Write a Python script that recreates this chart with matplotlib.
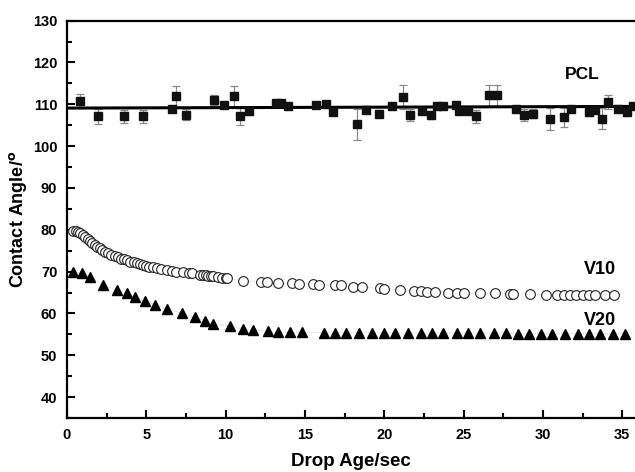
import matplotlib
matplotlib.use("Agg")
import matplotlib.pyplot as plt
from matplotlib.ticker import MultipleLocator

plt.rcParams['font.family'] = ['Liberation Sans', 'DejaVu Sans']
plt.rcParams['font.weight'] = 'bold'
plt.rcParams['mathtext.default'] = 'regular'

# PCL: drop age (s), contact angle (deg), error
pcl_t = [0.82, 1.97, 3.6, 4.8, 6.64, 6.9, 7.5, 9.25, 9.9, 10.5, 10.9, 11.45,
         13.2, 13.5, 13.95, 15.7, 16.3, 16.75, 18.26, 18.83, 19.67, 20.5, 21.2,
         21.6, 22.4, 22.95, 23.3, 23.7, 24.5, 24.7, 25.3, 25.8, 26.6, 27.1,
         28.3, 28.8, 29.4, 30.45, 31.35, 31.75, 32.9, 33.3, 33.7, 34.1, 34.7,
         35.3, 35.7]
pcl_a = [110.9, 107.1, 107.1, 107.1, 108.9, 111.9, 107.5, 111.1, 109.9, 111.9,
         107.1, 108.3, 110.3, 110.3, 109.7, 109.9, 110.1, 108.1, 105.2, 108.7,
         107.8, 109.7, 111.8, 107.5, 108.3, 107.5, 109.7, 109.5, 109.9, 108.3,
         108.4, 107.1, 112.2, 112.2, 109.0, 107.5, 107.8, 106.5, 106.9, 109.0,
         108.1, 108.7, 106.6, 110.6, 108.9, 108.1, 109.7]
pcl_e = [1.5, 1.8, 1.5, 1.5, 0.5, 2.6, 1.3, 1.2, 0.5, 2.6,
         2.0, 0.8, 0.5, 0.5, 0.5, 0.5, 0.5, 0.5, 3.8, 0.6,
         0.8, 0.5, 2.8, 1.5, 0.6, 1.0, 0.5, 0.5, 0.5, 0.6,
         0.6, 1.5, 2.5, 2.5, 0.5, 1.5, 1.0, 2.6, 2.3, 0.5,
         0.8, 0.5, 2.5, 1.6, 0.5, 1.0, 0.5]
pcl_fit_t = [0.0, 35.8]
pcl_fit_a = [109.1, 109.5]

# V10
v10_t = [0.4, 0.55, 0.7, 0.85, 1.0, 1.15, 1.3, 1.45, 1.6, 1.75, 1.9, 2.05,
         2.2, 2.4, 2.6, 2.8, 3.0, 3.2, 3.4, 3.6, 3.8, 4.0, 4.2, 4.4, 4.6, 4.8,
         5.0, 5.2, 5.45, 5.7, 5.95, 6.3, 6.6, 6.9, 7.3, 7.7, 7.9, 8.4, 8.6,
         8.75, 8.9, 9.05, 9.2, 9.5, 9.8, 10.0, 10.1, 11.1, 12.2, 12.6, 13.3,
         14.2, 14.6, 15.5, 15.9, 16.9, 17.3, 18.0, 18.6, 19.7, 20.0, 21.0,
         21.9, 22.3, 22.7, 23.2, 24.0, 24.6, 25.0, 26.0, 27.0, 27.9, 28.1,
         29.2, 30.2, 30.9, 31.3, 31.7, 32.1, 32.5, 32.9, 33.3, 33.9, 34.5]
v10_a = [79.6, 79.7, 79.5, 79.2, 78.8, 78.3, 77.8, 77.3, 76.9, 76.4, 76.0, 75.6,
         75.2, 74.8, 74.4, 74.0, 73.7, 73.4, 73.1, 72.9, 72.7, 72.4, 72.2, 72.0,
         71.8, 71.6, 71.4, 71.2, 71.0, 70.8, 70.6, 70.3, 70.1, 70.0, 69.8, 69.7,
         69.6, 69.3, 69.2, 69.1, 69.0, 69.0, 68.9, 68.7, 68.5, 68.4, 68.4, 67.7,
         67.5, 67.4, 67.3, 67.2, 67.1, 67.0, 66.9, 66.8, 66.7, 66.4, 66.3, 66.0,
         65.9, 65.6, 65.4, 65.3, 65.2, 65.1, 65.0, 64.9, 64.9, 64.8, 64.8, 64.7,
         64.7, 64.6, 64.5, 64.5, 64.5, 64.4, 64.4, 64.4, 64.4, 64.4, 64.3, 64.3]

# V20
v20_t = [0.4, 0.93, 1.45, 2.29, 3.13, 3.76, 4.29, 4.92, 5.55, 6.29, 7.23, 8.07,
         8.7, 9.2, 10.28, 11.1, 11.75, 12.7, 13.3, 14.06, 14.8, 16.2, 16.9,
         17.6, 18.4, 19.2, 20.0, 20.7, 21.5, 22.3, 23.0, 23.7, 24.6, 25.3,
         26.0, 26.9, 27.7, 28.4, 29.1, 29.9, 30.6, 31.4, 32.2, 32.9, 33.6,
         34.4, 35.2]
v20_a = [70.0, 69.6, 68.8, 66.8, 65.6, 64.9, 63.9, 63.0, 62.1, 61.0, 60.1, 59.1,
         58.2, 57.5, 56.9, 56.2, 56.1, 55.7, 55.5, 55.5, 55.5, 55.4, 55.4,
         55.4, 55.4, 55.4, 55.3, 55.3, 55.3, 55.3, 55.3, 55.3, 55.3, 55.3,
         55.3, 55.3, 55.3, 55.2, 55.2, 55.2, 55.2, 55.2, 55.2, 55.2, 55.2,
         55.2, 55.2]

fig = plt.figure(figsize=(6.35, 4.72), dpi=100)
ax = fig.add_axes([0.1055, 0.1144, 0.8945, 0.8418])

ax.errorbar(pcl_t, pcl_a, yerr=pcl_e, fmt='none', ecolor='#8a8a8a',
            elinewidth=0.9, capsize=3, capthick=0.9, zorder=2)
ax.plot(pcl_fit_t, pcl_fit_a, color='black', lw=2.2, zorder=3)
ax.plot(pcl_t, pcl_a, 's', color='#111111', ms=6.3, zorder=4)

ax.plot(v10_t, v10_a, ':', color='#aaaaaa', lw=0.5, zorder=2)
ax.plot(v10_t, v10_a, 'o', mfc='white', mec='#222222', mew=0.8, ms=7,
        ls='none', zorder=3)

ax.plot(v20_t, v20_a, ':', color='#aaaaaa', lw=0.5, zorder=2)
ax.plot(v20_t, v20_a, '^', color='black', ms=7.5, ls='none', zorder=3)

ax.text(32.5, 117.2, 'PCL', fontsize=12.5, fontweight='bold', ha='center', va='center')
ax.text(33.6, 70.6, 'V10', fontsize=13, fontweight='bold', ha='center', va='center')
ax.text(33.6, 58.4, 'V20', fontsize=13, fontweight='bold', ha='center', va='center')

ax.set_xlim(0, 35.8)
ax.set_ylim(35, 130)
ax.xaxis.set_major_locator(MultipleLocator(5))
ax.xaxis.set_minor_locator(MultipleLocator(2.5))
ax.yaxis.set_major_locator(MultipleLocator(10))
ax.yaxis.set_minor_locator(MultipleLocator(5))
ax.set_yticks(range(40, 131, 10))

ax.tick_params(which='both', direction='in', width=1.5, labelsize=10.5)
ax.tick_params(which='major', length=6, pad=7)
ax.tick_params(which='minor', length=3.5)
ax.tick_params(axis='x', top=False)
ax.tick_params(axis='y', right=False)
for side in ['left', 'bottom', 'top']:
    ax.spines[side].set_linewidth(1.6)
ax.spines['right'].set_visible(False)

ax.set_xlabel('Drop Age/sec', fontsize=13.5, fontweight='bold', labelpad=8)
ax.set_ylabel('Contact Angle/$^{\\mathbf{o}}$', fontsize=13, fontweight='bold', labelpad=3)

fig.savefig('out.png', dpi=100)
